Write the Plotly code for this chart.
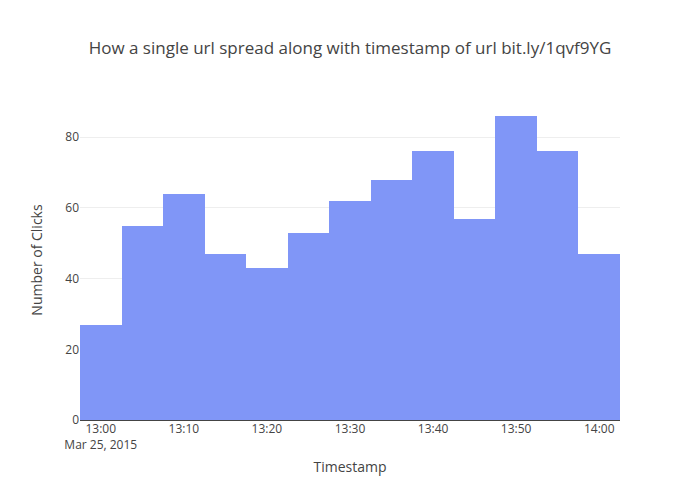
import plotly.graph_objects as go

times = ["2015-03-25 13:00", "2015-03-25 13:05", "2015-03-25 13:10", "2015-03-25 13:15",
         "2015-03-25 13:20", "2015-03-25 13:25", "2015-03-25 13:30", "2015-03-25 13:35",
         "2015-03-25 13:40", "2015-03-25 13:45", "2015-03-25 13:50", "2015-03-25 13:55",
         "2015-03-25 14:00"]
clicks = [27, 55, 64, 47, 43, 53, 62, 68, 76, 57, 86, 76, 47]

fig = go.Figure(go.Bar(x=times, y=clicks,
                       marker=dict(color="rgb(128,150,247)", line=dict(width=0))))
fig.update_layout(
    template="none",
    width=700, height=500,
    margin=dict(l=72, r=88, t=92, b=88),
    title=dict(text="How a single url spread along with timestamp of url bit.ly/1qvf9YG",
               x=0.5, xref="paper"),
    bargap=0,
    xaxis=dict(title=dict(text="Timestamp"), type="date"),
    yaxis=dict(title=dict(text="Number of Clicks")),
    font=dict(family="Open Sans"),
)
fig.write_html("out.html")
